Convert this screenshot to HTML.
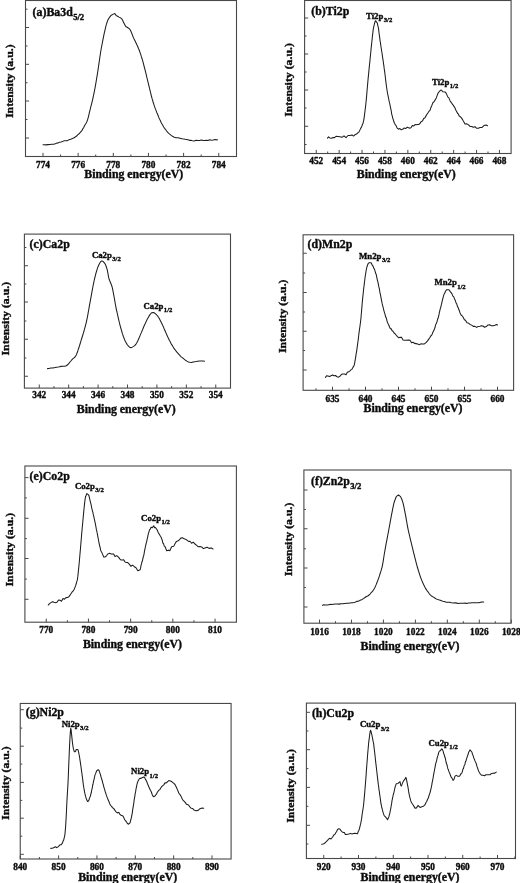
<!DOCTYPE html>
<html lang="en"><head><meta charset="utf-8"><title>XPS spectra</title>
<style>html,body{margin:0;padding:0;background:#fff;}body{width:520px;height:883px;overflow:hidden;}svg{display:block;}svg text{font-family:"Liberation Serif", "DejaVu Serif", serif;font-weight:bold;fill:#0c0c0c;stroke:#0c0c0c;stroke-width:0.38px;stroke-linejoin:round;}</style>
</head><body>
<svg width="520" height="883" viewBox="0 0 520 883">
<rect x="0" y="0" width="520" height="883" fill="#fff"/>
<g>
<rect x="25.5" y="0.5" width="211" height="156" fill="none" stroke="#484848" stroke-width="1.1"/>
<path d="M43 156.5 v-3.6M78.15 156.5 v-3.6M113.3 156.5 v-3.6M148.45 156.5 v-3.6M183.6 156.5 v-3.6M218.75 156.5 v-3.6M60.57 156.5 v-2M95.72 156.5 v-2M130.87 156.5 v-2M166.02 156.5 v-2M201.17 156.5 v-2M25.5 27.5 h3.6M25.5 64.3 h3.6M25.5 101 h3.6M25.5 138 h3.6M25.5 9.2 h2M25.5 46 h2M25.5 82.7 h2M25.5 119.5 h2" stroke="#484848" stroke-width="1" fill="none"/>
<text x="43" y="167.67" font-size="9.3" text-anchor="middle">774</text>
<text x="78.15" y="167.67" font-size="9.3" text-anchor="middle">776</text>
<text x="113.3" y="167.67" font-size="9.3" text-anchor="middle">778</text>
<text x="148.45" y="167.67" font-size="9.3" text-anchor="middle">780</text>
<text x="183.6" y="167.67" font-size="9.3" text-anchor="middle">782</text>
<text x="218.75" y="167.67" font-size="9.3" text-anchor="middle">784</text>
<text x="133.75" y="177.69" font-size="11.8" text-anchor="middle" textLength="99" lengthAdjust="spacingAndGlyphs">Binding energy(eV)</text>
<text transform="translate(12.8 81.2) rotate(-90)" font-size="11.4" text-anchor="middle" textLength="73.6" lengthAdjust="spacingAndGlyphs">Intensity (a.u.)</text>
<text x="32.6" y="15.6" font-size="11.85" text-anchor="start">(a)Ba3d<tspan font-size="8.65" dx="0.4" dy="4.38">5/2</tspan></text>
<path d="M43 144.75 L44.27 144.84 L46.09 144.87 L48 144.64 L49.92 144.51 L51.92 144.16 L53.75 144.2 L55.27 143.75 L56.62 143.14 L58 142.97 L59.48 142.16 L60.99 142.05 L62.5 141.54 L63.96 140.85 L65.43 140.66 L67 140.67 L68.8 139.86 L70.7 139.28 L72.5 138.56 L74.08 137.73 L75.56 136.78 L77 135.75 L78.1 134.38 L79.2 133.74 L80.26 132.43 L81.25 131.44 L82.14 130.17 L82.95 128.58 L83.73 127.45 L84.5 125.84 L85.28 124.43 L86.05 123.25 L86.79 121.91 L87.5 120.02 L87.95 118.47 L88.37 117.06 L88.78 115.37 L89.19 113.41 L89.59 111.7 L90 110.04 L90.42 108.48 L90.83 106.63 L91.25 105.14 L91.67 103.62 L92.08 101.81 L92.5 100.06 L92.85 98.52 L93.2 96.89 L93.55 95.26 L93.89 93.69 L94.25 91.93 L94.62 90.01 L95 88.09 L95.25 86.56 L95.52 85.12 L95.78 83.64 L96.05 82.05 L96.33 80.42 L96.61 78.69 L96.89 76.89 L97.17 75.29 L97.45 73.57 L97.73 71.78 L98 70.06 L98.25 68.41 L98.49 66.78 L98.73 65.16 L98.96 63.41 L99.2 61.84 L99.44 60.2 L99.68 58.37 L99.93 56.79 L100.18 55.09 L100.44 53.27 L100.71 51.57 L101 50.02 L101.3 48.23 L101.62 46.5 L101.96 44.8 L102.3 43 L102.65 41.22 L103.01 39.39 L103.36 37.58 L103.71 35.8 L104.05 34.19 L104.39 32.67 L104.7 31.32 L105 30.06 L105.54 27.61 L106.03 25.7 L106.49 24.19 L106.94 22.54 L107.4 21.33 L107.9 20.05 L109.05 17.95 L110.25 16.33 L111.3 15.22 L113.3 14.12 L114.8 13.43 L115.59 14.65 L116.5 15.8 L117.69 16.22 L119 17.12 L120.39 17.82 L121.7 18.65 L122.63 20.27 L123.5 22.36 L124.19 23.5 L124.93 24.88 L125.8 26.53 L127.53 27.49 L129.2 28.67 L130.14 29.77 L131 31.44 L131.59 32.88 L132.22 34.45 L132.94 36.49 L133.8 38.4 L134.48 39.78 L135.23 41.29 L136.04 42.95 L136.88 44.82 L137.71 46.45 L138.5 48.48 L139.07 49.75 L139.63 51.22 L140.18 52.95 L140.73 54.41 L141.28 56.39 L141.84 58.01 L142.41 59.89 L143 61.93 L143.4 63.39 L143.81 65.12 L144.23 66.75 L144.65 68.29 L145.07 69.91 L145.5 71.59 L145.93 73.37 L146.35 75.19 L146.77 77.03 L147.19 78.75 L147.6 80.49 L148 82.09 L148.43 83.69 L148.85 85.51 L149.26 87.17 L149.67 88.97 L150.08 90.51 L150.48 92.41 L150.88 93.77 L151.29 95.54 L151.69 97.01 L152.09 98.65 L152.5 99.89 L153.06 102 L153.6 103.46 L154.14 105.37 L154.69 106.95 L155.24 108.42 L155.8 109.82 L156.39 111.41 L157 112.98 L157.64 114.47 L158.32 116.06 L159.01 117.93 L159.72 119.39 L160.43 120.82 L161.14 122.43 L161.83 123.8 L162.5 124.84 L163.53 126.8 L164.54 128.33 L165.52 129.45 L166.51 130.76 L167.5 132.18 L168.74 133.36 L169.97 134.3 L171.21 135.37 L172.5 136.23 L174.29 137.17 L176.13 137.78 L178 137.73 L179.95 138.18 L181.94 138.85 L183.75 138.94 L185.27 139.31 L186.62 139.51 L188 139.73 L189.37 140.38 L190.77 140.32 L192.5 140.8 L194.15 141.03 L196.03 140.33 L198.02 140.59 L200 140.36 L201.54 140.04 L203.09 140.58 L204.67 140.43 L206.3 140.17 L208 140.47 L209.61 139.84 L211.41 140.21 L213.25 140.08 L214.98 139.44 L216.45 139.87 L217.5 139.7" stroke="#1c1c1c" stroke-width="1.05" fill="none" stroke-linejoin="round" stroke-linecap="round"/>
</g>
<g>
<rect x="304.6" y="0.5" width="206.5" height="153" fill="none" stroke="#484848" stroke-width="1.1"/>
<path d="M316.25 153.5 v-3.6M339.15 153.5 v-3.6M362.05 153.5 v-3.6M384.95 153.5 v-3.6M407.85 153.5 v-3.6M430.75 153.5 v-3.6M453.65 153.5 v-3.6M476.55 153.5 v-3.6M499.45 153.5 v-3.6M327.7 153.5 v-2M350.6 153.5 v-2M373.5 153.5 v-2M396.4 153.5 v-2M419.3 153.5 v-2M442.2 153.5 v-2M465.1 153.5 v-2M488 153.5 v-2M304.6 18 h3.6M304.6 54 h3.6M304.6 90 h3.6M304.6 126.25 h3.6M304.6 36 h2M304.6 72 h2M304.6 108 h2M304.6 144.5 h2" stroke="#484848" stroke-width="1" fill="none"/>
<text x="316.25" y="164.27" font-size="9.3" text-anchor="middle">452</text>
<text x="339.15" y="164.27" font-size="9.3" text-anchor="middle">454</text>
<text x="362.05" y="164.27" font-size="9.3" text-anchor="middle">456</text>
<text x="384.95" y="164.27" font-size="9.3" text-anchor="middle">458</text>
<text x="407.85" y="164.27" font-size="9.3" text-anchor="middle">460</text>
<text x="430.75" y="164.27" font-size="9.3" text-anchor="middle">462</text>
<text x="453.65" y="164.27" font-size="9.3" text-anchor="middle">464</text>
<text x="476.55" y="164.27" font-size="9.3" text-anchor="middle">466</text>
<text x="499.45" y="164.27" font-size="9.3" text-anchor="middle">468</text>
<text x="406.25" y="178.44" font-size="11.8" text-anchor="middle" textLength="99" lengthAdjust="spacingAndGlyphs">Binding energy(eV)</text>
<text transform="translate(291.8 80) rotate(-90)" font-size="11.4" text-anchor="middle" textLength="73.6" lengthAdjust="spacingAndGlyphs">Intensity (a.u.)</text>
<text x="311.3" y="15.4" font-size="11.85" text-anchor="start">(b)Ti2p</text>
<text x="366" y="18.5" font-size="8.75" text-anchor="start">Ti2p<tspan font-size="6.65" dx="0.4" dy="3.24">3/2</tspan></text>
<text x="432" y="85.2" font-size="8.75" text-anchor="start">Ti2p<tspan font-size="6.65" dx="0.4" dy="3.24">1/2</tspan></text>
<path d="M327.5 138.19 L328.56 136.83 L330 138.08 L331.47 138.18 L333 137.42 L334.44 137.63 L336 136.32 L337.94 136.52 L340 136.8 L342 137.35 L344 135.83 L346 137.62 L348 135.49 L350.06 135.51 L352 134.88 L353.56 136.07 L355 134.72 L356.56 134.08 L358 132.69 L359.06 131.84 L360 129.86 L360.68 128.39 L361.35 127.42 L362 125.75 L362.47 124.25 L362.92 123.67 L363.35 121.94 L363.75 120.15 L364.03 118.72 L364.29 116.64 L364.52 114.81 L364.76 112.93 L365 110.94 L365.17 109.72 L365.34 107.96 L365.51 106.88 L365.68 105.47 L365.86 103.77 L366.05 101.8 L366.25 100.11 L366.38 98.39 L366.52 97.16 L366.66 95.35 L366.81 93.59 L366.96 91.9 L367.11 90.05 L367.26 88.27 L367.42 86.72 L367.57 84.97 L367.72 83.08 L367.86 81.59 L368 79.99 L368.17 78.14 L368.34 76.62 L368.5 74.71 L368.66 73.46 L368.81 71.84 L368.97 70.29 L369.14 68.31 L369.31 66.63 L369.5 64.75 L369.65 63.42 L369.8 62.16 L369.96 60.48 L370.13 58.77 L370.3 56.67 L370.47 55.23 L370.64 53.52 L370.81 51.79 L370.99 50.06 L371.16 48.02 L371.33 46.4 L371.5 45.16 L371.7 43.26 L371.9 41.46 L372.09 39.33 L372.29 37.71 L372.48 35.46 L372.68 34.19 L372.88 32.49 L373.08 30.59 L373.29 28.95 L373.5 28.04 L374.04 25.5 L374.61 23.09 L375.18 21.23 L375.75 20.75 L376.51 22.17 L377.27 22.82 L378 26.44 L378.25 27.03 L378.48 28.37 L378.69 29.83 L378.91 32.04 L379.13 33.79 L379.38 35.39 L379.67 37.39 L380 40.11 L380.2 41.63 L380.42 42.43 L380.65 44.39 L380.89 46.14 L381.14 47.49 L381.4 49.26 L381.66 51.16 L381.93 52.5 L382.2 54.31 L382.47 56.38 L382.74 58.08 L383 59.85 L383.26 61.47 L383.51 63.61 L383.75 64.86 L383.98 66.81 L384.21 68.67 L384.44 70.1 L384.66 71.65 L384.88 73.53 L385.1 75.21 L385.31 77.03 L385.53 78.76 L385.74 80.62 L385.95 82.32 L386.16 84.02 L386.37 85.75 L386.58 87.29 L386.79 88.76 L387 89.9 L387.35 92.26 L387.7 94.14 L388.06 95.6 L388.41 97.67 L388.75 99.06 L389.08 100.9 L389.41 102.41 L389.71 103.37 L390 104.94 L390.39 106.96 L390.75 108.68 L391.08 110.17 L391.39 111.75 L391.69 114.07 L392 115.23 L392.42 116.72 L392.8 118.43 L393.21 119.32 L393.75 121.27 L394.43 123.19 L395.22 124.58 L396.08 125.66 L397 127.83 L398.4 129.17 L399.91 128.56 L401.25 129.79 L402.67 129.37 L404 128.03 L405.7 128.48 L407.5 127.19 L409.22 128.13 L411 127.76 L412.3 125.49 L413.65 126.06 L415 124.51 L416.35 124.82 L417.7 124.5 L419 124.45 L420.2 123.23 L421.35 121.38 L422.5 120.9 L423.65 118.57 L424.8 118.02 L426 115.87 L426.99 114.25 L428.03 112.74 L429.06 111.17 L430 110.43 L430.84 107.69 L431.62 105.97 L432.34 104.09 L433 102.5 L434 101.8 L435 100.13 L435.67 98.91 L436.42 97.65 L437.21 95.39 L438 93.31 L439.12 91.68 L440.27 90.53 L441.25 89.99 L443 91.81 L445 92.02 L445.94 92.82 L447 95.14 L447.89 97.11 L448.89 97.86 L450 100.65 L450.74 101.9 L451.55 102.84 L452.39 104.18 L453.22 105.11 L454 106.41 L454.91 107.77 L455.78 110.02 L456.64 111.49 L457.5 113.26 L458.36 114.04 L459.22 116.04 L460.09 116.51 L461 117.42 L461.94 118.62 L462.91 120.31 L463.92 121.96 L465 123.9 L466.59 123.81 L468.3 124.65 L470 126.46 L471.67 126.45 L473.33 127.33 L475 126.69 L476.7 128.33 L478.41 128.23 L480 127.57 L482.09 127.41 L484 125.61 L486 124.97 L487.5 125.78" stroke="#1c1c1c" stroke-width="1.05" fill="none" stroke-linejoin="round" stroke-linecap="round"/>
</g>
<g>
<rect x="24.4" y="234.1" width="206.1" height="154" fill="none" stroke="#484848" stroke-width="1.1"/>
<path d="M39.25 388.1 v-3.6M68.67 388.1 v-3.6M98.08 388.1 v-3.6M127.5 388.1 v-3.6M156.91 388.1 v-3.6M186.33 388.1 v-3.6M215.75 388.1 v-3.6M53.96 388.1 v-2M83.37 388.1 v-2M112.79 388.1 v-2M142.21 388.1 v-2M171.62 388.1 v-2M201.04 388.1 v-2M24.4 265.75 h3.6M24.4 302 h3.6M24.4 339.25 h3.6M24.4 376.25 h3.6M24.4 247.5 h2M24.4 284 h2M24.4 321 h2M24.4 358 h2" stroke="#484848" stroke-width="1" fill="none"/>
<text x="39.25" y="398.37" font-size="9.3" text-anchor="middle">342</text>
<text x="68.67" y="398.37" font-size="9.3" text-anchor="middle">344</text>
<text x="98.08" y="398.37" font-size="9.3" text-anchor="middle">346</text>
<text x="127.5" y="398.37" font-size="9.3" text-anchor="middle">348</text>
<text x="156.91" y="398.37" font-size="9.3" text-anchor="middle">350</text>
<text x="186.33" y="398.37" font-size="9.3" text-anchor="middle">352</text>
<text x="215.75" y="398.37" font-size="9.3" text-anchor="middle">354</text>
<text x="126.25" y="412.69" font-size="11.8" text-anchor="middle" textLength="99" lengthAdjust="spacingAndGlyphs">Binding energy(eV)</text>
<text transform="translate(8.9 318.7) rotate(-90)" font-size="11.4" text-anchor="middle" textLength="73.6" lengthAdjust="spacingAndGlyphs">Intensity (a.u.)</text>
<text x="29.6" y="248.1" font-size="11.85" text-anchor="start">(c)Ca2p</text>
<text x="91.9" y="257.5" font-size="8.75" text-anchor="start">Ca2p<tspan font-size="6.65" dx="0.4" dy="3.24">3/2</tspan></text>
<text x="143.5" y="309.2" font-size="8.75" text-anchor="start">Ca2p<tspan font-size="6.65" dx="0.4" dy="3.24">1/2</tspan></text>
<path d="M47.5 368.64 L48.88 368.55 L50.88 368.09 L53.05 367.88 L55 367.53 L56.62 367.19 L58.14 367 L59.59 366.75 L61 366.37 L62.86 366.35 L64.64 366.25 L66.25 365.76 L67.64 364.8 L68.86 363.39 L70 361.97 L71.05 360.76 L72.01 359.58 L73 358.57 L74 357.8 L75.03 357.04 L76.25 354.99 L76.73 353.85 L77.24 352.45 L77.79 350.95 L78.35 349.21 L78.93 347.49 L79.52 345.63 L80.11 343.75 L80.68 341.8 L81.25 339.94 L81.71 338.49 L82.18 337.03 L82.65 335.48 L83.12 333.96 L83.59 332.35 L84.06 330.75 L84.52 329.21 L84.98 327.48 L85.42 325.83 L85.84 324.21 L86.25 322.52 L86.61 320.91 L86.95 319.32 L87.28 317.67 L87.59 316.04 L87.9 314.38 L88.2 312.69 L88.5 310.97 L88.8 309.26 L89.09 307.6 L89.39 305.86 L89.69 304.19 L90 302.54 L90.31 300.83 L90.63 299.07 L90.95 297.35 L91.27 295.57 L91.59 293.83 L91.91 292.04 L92.23 290.31 L92.54 288.66 L92.85 286.98 L93.16 285.39 L93.46 283.95 L93.75 282.55 L94.18 280.5 L94.59 278.65 L95 277.03 L95.4 275.44 L95.79 273.89 L96.17 272.48 L96.54 271.24 L96.9 270.06 L97.57 267.87 L98.19 266.26 L98.79 264.95 L99.4 263.7 L100.61 261.79 L101.9 260.89 L103.47 261.81 L105 263.7 L105.63 264.94 L106.21 266.48 L106.74 268.13 L107.25 269.95 L107.61 271.57 L107.93 273.37 L108.24 275.2 L108.58 277.07 L109 278.74 L109.52 280.27 L110.13 281.73 L110.76 283.19 L111.37 284.73 L111.9 286.21 L112.33 287.84 L112.68 289.45 L113.01 291.12 L113.36 292.91 L113.75 295.04 L114.02 296.48 L114.3 298 L114.58 299.64 L114.88 301.37 L115.19 303.22 L115.52 305.01 L115.87 306.91 L116.25 308.8 L116.57 310.34 L116.92 311.9 L117.28 313.5 L117.66 315.22 L118.05 316.92 L118.44 318.67 L118.84 320.35 L119.23 322 L119.62 323.54 L120 325.06 L120.47 326.79 L120.94 328.5 L121.41 330.23 L121.88 331.77 L122.34 333.38 L122.81 334.85 L123.28 336.26 L123.75 337.43 L124.5 339.35 L125.25 341.18 L126 342.54 L126.75 343.89 L127.5 345.02 L128.71 346.43 L129.91 347.41 L131.25 347.63 L132.4 347.13 L133.64 346.37 L134.92 345.44 L136.15 343.84 L136.94 342.51 L137.72 340.95 L138.49 339.21 L139.26 337.49 L140.03 335.6 L140.8 333.86 L141.46 332.4 L142.12 330.77 L142.77 329.25 L143.43 327.52 L144.09 326.07 L144.74 324.57 L145.4 323.18 L146.18 321.4 L146.99 319.87 L147.79 318.33 L148.58 316.91 L149.32 315.63 L150 314.55 L151.55 312.77 L153.1 312.41 L154.14 312.77 L155.31 313.66 L156.51 314.73 L157.7 316.06 L158.45 317.27 L159.17 318.35 L159.9 319.79 L160.65 321.24 L161.44 322.77 L162.3 324.54 L162.92 325.85 L163.57 327.33 L164.25 329.03 L164.95 330.53 L165.66 332.31 L166.38 333.84 L167.1 335.49 L167.81 337.06 L168.5 338.48 L169.36 340.3 L170.2 341.81 L171.04 343.42 L171.88 344.88 L172.74 346.32 L173.65 347.85 L174.6 349.17 L175.62 350.56 L176.68 351.94 L177.79 353.11 L178.92 354.35 L180.05 355.66 L181.19 356.82 L182.3 357.59 L183.84 358.95 L185.38 360.21 L186.92 361.14 L188.46 361.94 L190 362.31 L191.55 362.57 L193.12 362.1 L194.68 361.83 L196.21 361.54 L197.7 361.17 L199.64 361.08 L201.63 361.07 L203.38 361.06 L204.6 361.19" stroke="#1c1c1c" stroke-width="1.05" fill="none" stroke-linejoin="round" stroke-linecap="round"/>
</g>
<g>
<rect x="303.1" y="234.8" width="210.5" height="155.5" fill="none" stroke="#484848" stroke-width="1.1"/>
<path d="M332.5 390.3 v-3.6M365.5 390.3 v-3.6M398.5 390.3 v-3.6M431.5 390.3 v-3.6M464.5 390.3 v-3.6M497.5 390.3 v-3.6M316 390.3 v-2M349 390.3 v-2M382 390.3 v-2M415 390.3 v-2M448 390.3 v-2M481 390.3 v-2M303.1 253.25 h3.6M303.1 292.5 h3.6M303.1 331.25 h3.6M303.1 370 h3.6M303.1 273 h2M303.1 312 h2M303.1 350.5 h2" stroke="#484848" stroke-width="1" fill="none"/>
<text x="332.5" y="401.82" font-size="9.3" text-anchor="middle">635</text>
<text x="365.5" y="401.82" font-size="9.3" text-anchor="middle">640</text>
<text x="398.5" y="401.82" font-size="9.3" text-anchor="middle">645</text>
<text x="431.5" y="401.82" font-size="9.3" text-anchor="middle">650</text>
<text x="464.5" y="401.82" font-size="9.3" text-anchor="middle">655</text>
<text x="497.5" y="401.82" font-size="9.3" text-anchor="middle">660</text>
<text x="413" y="412.19" font-size="11.8" text-anchor="middle" textLength="99" lengthAdjust="spacingAndGlyphs">Binding energy(eV)</text>
<text transform="translate(285.7 316.3) rotate(-90)" font-size="11.4" text-anchor="middle" textLength="73.6" lengthAdjust="spacingAndGlyphs">Intensity (a.u.)</text>
<text x="307.6" y="248" font-size="11.85" text-anchor="start">(d)Mn2p</text>
<text x="359.1" y="258.6" font-size="8.75" text-anchor="start">Mn2p<tspan font-size="6.65" dx="0.4" dy="3.24">3/2</tspan></text>
<text x="434.4" y="285.4" font-size="8.75" text-anchor="start">Mn2p<tspan font-size="6.65" dx="0.4" dy="3.24">1/2</tspan></text>
<path d="M325.5 377.4 L326.56 375.72 L328 376.01 L329.47 376.52 L331 375.82 L332.5 375.06 L334 375.74 L335.5 375.51 L337 376.72 L338.5 377.17 L340 376.29 L341.5 374.35 L343 374.07 L344.59 373.93 L346 374.66 L347.5 372.05 L348.61 371.97 L350 370.78 L350.9 369.88 L351.92 369.34 L352.92 367.38 L353.75 366.13 L354.22 365.12 L354.58 363.6 L354.88 361.72 L355.17 360.22 L355.5 358.06 L355.74 356.85 L355.99 354.87 L356.25 353.33 L356.52 351.79 L356.78 350.33 L357.03 348.37 L357.27 346.59 L357.5 344.83 L357.74 343.1 L357.96 341.35 L358.16 340.14 L358.37 338.4 L358.57 336.72 L358.78 334.78 L359 333.14 L359.21 331.33 L359.42 329.97 L359.64 328.25 L359.86 326.94 L360.08 325.26 L360.31 323.51 L360.53 322.22 L360.75 319.77 L360.9 318.74 L361.04 317.15 L361.18 315.25 L361.32 313.77 L361.47 312.29 L361.61 310.53 L361.75 308.57 L361.9 306.9 L362.04 305.12 L362.19 303.2 L362.35 301.64 L362.5 300.05 L362.67 298.21 L362.85 296.7 L363.03 294.75 L363.22 293.2 L363.41 291.09 L363.59 289.63 L363.78 287.75 L363.97 286.51 L364.15 285.11 L364.33 283.43 L364.5 282.04 L364.76 280 L365.02 277.78 L365.27 276.04 L365.51 274.46 L365.76 272.93 L366 271.25 L366.25 269.98 L366.68 267.82 L367.11 266.43 L367.54 265.3 L368 263.75 L368.95 262.77 L370 262.8 L371.14 262.81 L372.5 265.71 L373.06 265.95 L373.68 268.18 L374.33 268.85 L374.99 270.87 L375.64 273.32 L376.25 274.5 L376.63 276.56 L377.01 278.35 L377.38 280.04 L377.74 281.49 L378.1 282.92 L378.45 284.67 L378.8 286.69 L379.15 287.92 L379.5 289.58 L379.84 292.02 L380.18 293.52 L380.52 294.86 L380.85 296.83 L381.18 298.43 L381.51 300.62 L381.84 301.75 L382.17 303.71 L382.5 305.23 L382.93 306.62 L383.35 308.24 L383.77 310.12 L384.2 311.53 L384.62 313.22 L385.06 314.38 L385.5 316.33 L386.02 317.55 L386.53 318.8 L387.05 321.08 L387.58 322.72 L388.15 323.88 L388.75 325.06 L389.53 327.11 L390.37 328.73 L391.23 328.73 L392.12 330.79 L393 331.2 L394.08 333 L395.17 333.92 L396.3 335.28 L397.5 336.59 L398.77 337.77 L400.09 337.26 L401.5 337.36 L403 340.05 L404.67 340.21 L406.47 340.3 L408.29 339.89 L410 340.28 L411.56 342.67 L413.03 342.24 L414.49 343.38 L416 343.62 L417.68 344.01 L419.47 344.63 L421.14 343.79 L422.5 343.91 L423.92 343.96 L425 343.48 L426.19 342.38 L427.51 340.89 L428.75 339.13 L429.78 337.71 L430.72 336 L431.7 335.04 L432.34 333.7 L433 332.02 L433.68 330.68 L434.35 329.31 L435 327.55 L435.53 325.1 L436.06 323.91 L436.58 322.84 L437.09 321.41 L437.6 319.35 L438.1 318.36 L438.53 316.28 L438.96 314.89 L439.38 312.43 L439.8 310.85 L440.21 308.83 L440.61 307.87 L441 306.02 L441.43 304.7 L441.85 302.66 L442.25 300.76 L442.64 299.25 L443.02 297.85 L443.4 296.35 L444.12 294.07 L444.81 293.06 L445.5 291.22 L446.5 289.82 L447.6 289.78 L448.98 289.76 L450.5 291.9 L451.28 292.83 L452.07 294.12 L452.89 296.09 L453.75 296.93 L454.47 298.86 L455.21 300.14 L455.98 302.64 L456.74 303.95 L457.5 306.61 L458.12 307.49 L458.73 309.3 L459.34 310.72 L459.96 312.66 L460.6 313.97 L461.25 315.21 L462.27 315.94 L463.33 317.51 L464.41 319.8 L465.5 320.34 L466.96 322.68 L468.45 323.09 L470 324.4 L471.63 325.13 L473.31 326.37 L475 326.34 L476.56 327.39 L478.11 326.49 L480 326.19 L481.38 325.78 L482.91 325.97 L484.55 327.26 L486.26 326.52 L488 324.93 L489.61 324.79 L491.41 325.7 L493.25 325.81 L494.98 325.29 L496.45 324.42 L497.5 324.93" stroke="#1c1c1c" stroke-width="1.05" fill="none" stroke-linejoin="round" stroke-linecap="round"/>
</g>
<g>
<rect x="24.9" y="466" width="211.5" height="156.2" fill="none" stroke="#484848" stroke-width="1.1"/>
<path d="M46.25 622.2 v-3.6M88.45 622.2 v-3.6M130.65 622.2 v-3.6M172.85 622.2 v-3.6M215.05 622.2 v-3.6M67.35 622.2 v-2M109.55 622.2 v-2M151.75 622.2 v-2M193.95 622.2 v-2M24.9 477.6 h3.6M24.9 518.3 h3.6M24.9 558.5 h3.6M24.9 599.3 h3.6M24.9 497.9 h2M24.9 538.6 h2M24.9 579.1 h2" stroke="#484848" stroke-width="1" fill="none"/>
<text x="46.25" y="633.27" font-size="9.3" text-anchor="middle">770</text>
<text x="88.45" y="633.27" font-size="9.3" text-anchor="middle">780</text>
<text x="130.65" y="633.27" font-size="9.3" text-anchor="middle">790</text>
<text x="172.85" y="633.27" font-size="9.3" text-anchor="middle">800</text>
<text x="215.05" y="633.27" font-size="9.3" text-anchor="middle">810</text>
<text x="132.4" y="648.44" font-size="11.8" text-anchor="middle" textLength="99" lengthAdjust="spacingAndGlyphs">Binding energy(eV)</text>
<text transform="translate(12.8 549.7) rotate(-90)" font-size="11.4" text-anchor="middle" textLength="73.6" lengthAdjust="spacingAndGlyphs">Intensity (a.u.)</text>
<text x="29.6" y="479.7" font-size="11.85" text-anchor="start">(e)Co2p</text>
<text x="74.9" y="488.9" font-size="8.75" text-anchor="start">Co2p<tspan font-size="6.65" dx="0.4" dy="3.24">3/2</tspan></text>
<text x="141.1" y="520.6" font-size="8.75" text-anchor="start">Co2p<tspan font-size="6.65" dx="0.4" dy="3.24">1/2</tspan></text>
<path d="M48.25 605.04 L49.44 603.68 L51 602.62 L52.48 601.67 L54 602.33 L55.5 602.75 L57 602.27 L58.5 599.98 L60 600.16 L61.5 601.25 L63 598.59 L64.44 599.21 L66 597.61 L67.3 597.48 L68.7 596.92 L70 595.17 L71.11 593.51 L72.11 592 L73 591.22 L74.08 589.57 L75 587.36 L75.64 585.68 L76.25 583.77 L76.75 581.67 L77.14 580.66 L77.5 579.06 L77.65 577.51 L77.82 576.41 L78.01 574.89 L78.2 573.09 L78.4 570.79 L78.61 568.92 L78.81 567.23 L79 564.91 L79.15 563.74 L79.29 561.71 L79.43 560.5 L79.58 558.45 L79.72 557.16 L79.86 555.54 L80.01 553.66 L80.17 551.91 L80.33 550.19 L80.5 548.28 L80.63 546.37 L80.76 545.06 L80.89 543.25 L81.02 541.86 L81.16 540.12 L81.3 538.48 L81.44 537.07 L81.58 535.08 L81.73 533.42 L81.88 531.62 L82.03 530.35 L82.18 528.3 L82.34 526.47 L82.5 525.07 L82.65 523.48 L82.81 521.7 L82.98 519.86 L83.14 518.01 L83.31 516.25 L83.49 514.13 L83.66 512.58 L83.84 510.66 L84.01 508.97 L84.19 507.27 L84.36 505.6 L84.52 503.84 L84.69 502.43 L84.85 501.3 L85 500.07 L85.55 496.43 L86.06 495.85 L86.55 493.8 L87 493.71 L88.5 494.91 L88.96 495.61 L89.43 497.85 L90 500.11 L90.3 501.61 L90.64 502.82 L91 504.06 L91.38 506.01 L91.76 508.14 L92.13 509.5 L92.5 511.37 L92.86 512.08 L93.21 514.43 L93.57 515.53 L93.93 517.11 L94.29 518.95 L94.64 520.46 L95 522.07 L95.36 523.94 L95.71 525.72 L96.07 527.53 L96.43 529.89 L96.79 530.98 L97.14 532.9 L97.5 534.55 L97.86 536.84 L98.21 538.48 L98.57 540.7 L98.93 542.3 L99.29 544.05 L99.64 546.02 L100 546.97 L100.62 550.15 L101.25 551.44 L101.88 552.59 L102.5 554.09 L103.72 556.94 L105 556.98 L106.45 555.79 L108 553.88 L109.58 553.28 L111.25 554 L112.47 554.01 L113.75 554.13 L115 556.42 L116.73 555.63 L118.5 557.17 L119.76 558.9 L121.07 560.03 L122.5 559.91 L123.68 559.73 L124.94 561.87 L126.23 562.49 L127.5 562.42 L129.22 564.14 L130.94 566.3 L132.5 565.18 L134.34 566.69 L136 567.76 L137.84 570.74 L139.5 570 L140.1 569.81 L140.58 568.15 L141.02 565.45 L141.5 563.93 L141.93 561.95 L142.37 561.08 L142.82 558.92 L143.28 556.88 L143.75 555.34 L144.09 553.77 L144.45 551.3 L144.8 549.57 L145.17 548.01 L145.53 546.21 L145.89 544.6 L146.25 542.92 L146.67 541.6 L147.09 539.35 L147.52 537.79 L147.94 535.64 L148.35 533.56 L148.75 532.59 L149.5 529.93 L150.22 529.22 L151 527.29 L152.34 527.63 L153.75 525.72 L154.64 527.69 L155.53 527.54 L156.5 528.96 L157.32 530.16 L158.2 532.48 L159.11 533.9 L160 535.4 L160.58 536.43 L161.15 537.29 L161.72 539.02 L162.3 540.33 L162.89 543.2 L163.5 543.42 L164.28 546.06 L165.09 546.7 L165.91 548.78 L166.72 550.67 L167.5 550.46 L168.69 550.14 L169.81 550.73 L171 548.08 L171.96 546.45 L172.97 546.59 L173.99 545.88 L175 543.84 L176.35 541.39 L177.7 540.91 L179 540.24 L180.78 538.11 L182.5 537.78 L184.22 538.85 L186 539.38 L187.26 540.42 L188.57 541.46 L190 541.29 L191.59 543.27 L193.3 542.18 L195 544.04 L196.67 545.3 L198.33 546.78 L200 546.43 L201.7 546.95 L203.41 548.61 L205 547.92 L207.06 547.16 L209 548.37 L211.25 547.89 L213 548.94" stroke="#1c1c1c" stroke-width="1.05" fill="none" stroke-linejoin="round" stroke-linecap="round"/>
</g>
<g>
<rect x="303.9" y="470" width="207.1" height="153.2" fill="none" stroke="#484848" stroke-width="1.1"/>
<path d="M319.5 623.2 v-3.6M351.46 623.2 v-3.6M383.42 623.2 v-3.6M415.38 623.2 v-3.6M447.34 623.2 v-3.6M479.3 623.2 v-3.6M511.26 623.2 v-3.6M335.48 623.2 v-2M367.44 623.2 v-2M399.4 623.2 v-2M431.36 623.2 v-2M463.32 623.2 v-2M495.28 623.2 v-2M303.9 490 h3.6M303.9 528.75 h3.6M303.9 568 h3.6M303.9 607 h3.6M303.9 509.5 h2M303.9 548.75 h2M303.9 587.5 h2" stroke="#484848" stroke-width="1" fill="none"/>
<text x="319.5" y="634.82" font-size="9.3" text-anchor="middle">1016</text>
<text x="351.46" y="634.82" font-size="9.3" text-anchor="middle">1018</text>
<text x="383.42" y="634.82" font-size="9.3" text-anchor="middle">1020</text>
<text x="415.38" y="634.82" font-size="9.3" text-anchor="middle">1022</text>
<text x="447.34" y="634.82" font-size="9.3" text-anchor="middle">1024</text>
<text x="479.3" y="634.82" font-size="9.3" text-anchor="middle">1026</text>
<text x="511.26" y="634.82" font-size="9.3" text-anchor="middle">1028</text>
<text x="410" y="649.69" font-size="11.8" text-anchor="middle" textLength="99" lengthAdjust="spacingAndGlyphs">Binding energy(eV)</text>
<text transform="translate(291.8 539.5) rotate(-90)" font-size="11.4" text-anchor="middle" textLength="73.6" lengthAdjust="spacingAndGlyphs">Intensity (a.u.)</text>
<text x="311" y="484.7" font-size="11.85" text-anchor="start">(f)Zn2p<tspan font-size="8.65" dx="0.4" dy="4.38">3/2</tspan></text>
<path d="M322.5 605.23 L323.73 604.83 L325.47 604.97 L327.6 604.92 L330 604.39 L331.57 604.56 L333.35 604.21 L335.27 604 L337.23 604 L339.15 604.12 L340.93 603.65 L342.5 603.84 L344.79 603.48 L346.72 603.2 L348.42 603.16 L350 602.94 L351.85 602.69 L353.43 602.61 L355 602.23 L356.67 601.38 L358.33 601.23 L360 600.36 L361.7 599.68 L363.41 598.62 L365 597.51 L366.43 596.5 L367.74 595.97 L369 595.03 L370.24 593.76 L371.43 592.35 L372.5 591.38 L373.41 590.04 L374.2 588.69 L375 587.17 L375.62 585.87 L376.25 584.39 L376.88 582.79 L377.5 581.26 L378 579.93 L378.5 578.62 L379 577.14 L379.5 575.68 L380 574 L380.5 572.43 L381 570.94 L381.5 569.19 L382 567.32 L382.5 565.05 L382.77 563.55 L383.03 562.15 L383.29 560.59 L383.54 558.98 L383.8 557.27 L384.07 555.52 L384.36 553.78 L384.67 551.97 L385 550.07 L385.27 548.59 L385.56 546.92 L385.87 545.13 L386.19 543.45 L386.52 541.67 L386.86 540.08 L387.2 538.19 L387.53 536.53 L387.85 534.76 L388.17 533.12 L388.47 531.58 L388.75 530.03 L389.1 528.01 L389.43 526.3 L389.75 524.49 L390.05 522.92 L390.35 521.14 L390.64 519.54 L390.92 518.12 L391.21 516.49 L391.5 514.91 L391.87 513.14 L392.23 511.28 L392.59 509.36 L392.94 507.53 L393.29 506.02 L393.65 504.36 L394 502.93 L394.64 500.74 L395.28 499.21 L395.91 497.55 L396.5 496.33 L398.5 494.92 L400.5 496.59 L401.09 497.82 L401.72 499 L402.36 500.91 L403 502.94 L403.35 504.49 L403.71 505.94 L404.06 507.64 L404.41 509.43 L404.77 511.2 L405.13 513.07 L405.5 514.9 L405.78 516.44 L406.06 518.07 L406.32 519.64 L406.6 521.2 L406.88 522.74 L407.18 524.57 L407.5 526.35 L407.86 528.18 L408.25 530.06 L408.58 531.56 L408.95 533.12 L409.35 534.85 L409.77 536.59 L410.2 538.52 L410.64 540.27 L411.08 542.2 L411.51 543.82 L411.92 545.53 L412.32 547.09 L412.68 548.61 L413 550.07 L413.55 552.35 L414.02 554.27 L414.42 555.66 L414.79 557.27 L415.14 558.61 L415.5 559.96 L415.92 561.74 L416.29 563.13 L416.65 564.43 L417.04 566 L417.5 567.48 L417.94 568.98 L418.42 570.57 L418.92 572.21 L419.44 573.73 L419.97 575.57 L420.5 576.94 L421.13 578.72 L421.78 580.33 L422.44 582.07 L423.1 583.44 L423.75 584.84 L424.57 586.48 L425.39 588.14 L426.21 589.36 L427 590.59 L428 591.83 L428.97 593.29 L430 594.6 L431.11 595.67 L432.28 596.45 L433.5 597.09 L434.8 597.97 L436.15 598.89 L437.5 599.45 L438.81 599.87 L440.11 600.25 L441.5 600.85 L442.88 601.27 L444.34 601.61 L446.25 602.2 L447.77 602.26 L449.55 602.22 L451.43 602.8 L453.3 602.97 L455 602.77 L456.85 603.13 L458.55 603.46 L460.22 603.29 L462 603.3 L463.55 603.18 L465.18 603.11 L466.82 603.4 L468.45 602.93 L470 602.98 L471.83 602.68 L473.58 602.83 L475.29 602.81 L477 602.71 L478.86 602.73 L480.81 602.14 L482.54 601.94 L483.75 601.92" stroke="#1c1c1c" stroke-width="1.05" fill="none" stroke-linejoin="round" stroke-linecap="round"/>
</g>
<g>
<rect x="20.25" y="703.45" width="210.85" height="155.55" fill="none" stroke="#484848" stroke-width="1.1"/>
<path d="M20.25 859 v-3.6M58.6 859 v-3.6M96.95 859 v-3.6M135.3 859 v-3.6M173.65 859 v-3.6M212 859 v-3.6M39.42 859 v-2M77.78 859 v-2M116.12 859 v-2M154.47 859 v-2M192.82 859 v-2M20.25 709.7 h3.6M20.25 746.2 h3.6M20.25 782.4 h3.6M20.25 818.2 h3.6M20.25 854.3 h3.6M20.25 728.1 h2M20.25 764.1 h2M20.25 800.4 h2M20.25 836.2 h2" stroke="#484848" stroke-width="1" fill="none"/>
<text x="20.25" y="870.27" font-size="9.3" text-anchor="middle">840</text>
<text x="58.6" y="870.27" font-size="9.3" text-anchor="middle">850</text>
<text x="96.95" y="870.27" font-size="9.3" text-anchor="middle">860</text>
<text x="135.3" y="870.27" font-size="9.3" text-anchor="middle">870</text>
<text x="173.65" y="870.27" font-size="9.3" text-anchor="middle">880</text>
<text x="212" y="870.27" font-size="9.3" text-anchor="middle">890</text>
<text x="127.7" y="880.69" font-size="11.8" text-anchor="middle" textLength="99" lengthAdjust="spacingAndGlyphs">Binding energy(eV)</text>
<text transform="translate(8.6 783.1) rotate(-90)" font-size="11.4" text-anchor="middle" textLength="73.6" lengthAdjust="spacingAndGlyphs">Intensity (a.u.)</text>
<text x="25.8" y="716.3" font-size="11.85" text-anchor="start">(g)Ni2p</text>
<text x="61.7" y="726.7" font-size="8.75" text-anchor="start">Ni2p<tspan font-size="6.65" dx="0.4" dy="3.24">3/2</tspan></text>
<text x="131.1" y="774.4" font-size="8.75" text-anchor="start">Ni2p<tspan font-size="6.65" dx="0.4" dy="3.24">1/2</tspan></text>
<path d="M50.75 848.38 L53 847.9 L55.5 846.74 L56.78 847.7 L58 846.8 L60 844.84 L61.25 844.7 L62.5 842.85 L63.06 841.01 L63.59 840.41 L64.08 838.35 L64.5 836.72 L64.77 835.34 L64.98 833.73 L65.17 832.01 L65.33 829.96 L65.5 827.99 L65.62 826.33 L65.73 824.73 L65.84 823.06 L65.94 821.16 L66.04 819.36 L66.15 817.55 L66.25 815.42 L66.33 813.9 L66.41 812.19 L66.49 810.66 L66.57 808.82 L66.65 807.09 L66.73 805.44 L66.82 803.59 L66.91 801.82 L67 800.03 L67.09 798.36 L67.19 796.69 L67.29 794.95 L67.39 793.26 L67.5 791.58 L67.61 789.88 L67.71 788.17 L67.81 786.59 L67.91 784.68 L68 782.92 L68.08 781.37 L68.15 779.78 L68.22 778.36 L68.28 776.82 L68.34 775.22 L68.41 773.66 L68.47 771.96 L68.53 770.29 L68.6 768.57 L68.67 766.86 L68.75 764.95 L68.81 763.49 L68.88 761.87 L68.95 760.26 L69.02 758.58 L69.09 756.78 L69.16 754.91 L69.23 753.22 L69.31 751.48 L69.38 749.71 L69.46 747.92 L69.53 746.29 L69.6 744.83 L69.68 743.4 L69.75 742 L69.88 739.79 L70 737.53 L70.12 735.5 L70.25 733.4 L70.38 731.9 L70.5 730.49 L70.62 729.15 L70.75 728.36 L71 728.94 L71.25 731.11 L71.5 733.64 L71.75 735.82 L71.95 737.85 L72.15 739.59 L72.35 741.76 L72.55 743.33 L72.75 744.79 L73.07 746.95 L73.4 748.64 L73.75 749.94 L74.36 751.76 L75 751.84 L75.62 751.24 L76.25 749.45 L77.5 749.57 L77.92 749.65 L78.33 751.02 L78.75 752.77 L79.04 754.46 L79.33 755.59 L79.63 757.5 L80 760.09 L80.22 761.43 L80.45 763.13 L80.71 764.94 L80.97 766.5 L81.24 768.61 L81.5 770.53 L81.76 772.39 L82 774.02 L82.23 775.87 L82.46 777.31 L82.67 779.18 L82.89 781.13 L83.1 782.85 L83.32 784.54 L83.53 786.01 L83.75 787.25 L84.1 789.46 L84.44 791.22 L84.78 793.19 L85.13 794.39 L85.5 796.21 L86.15 798.32 L86.82 800.1 L87.5 801.44 L88.52 801.05 L89.5 798.33 L89.96 796.9 L90.39 796.15 L90.82 794.09 L91.25 792.78 L91.6 790.95 L91.94 789.24 L92.28 787.78 L92.63 785.52 L93 784.25 L93.39 782 L93.79 780.38 L94.21 778.58 L94.61 776.74 L95 774.86 L95.61 773.63 L96.19 771.96 L96.75 770.73 L98.25 769.76 L99 770.4 L99.75 772.63 L100.21 773.79 L100.68 775.49 L101.25 777.81 L101.69 779.01 L102.18 780.46 L102.7 782.82 L103.23 784.34 L103.75 786.58 L104.25 788.29 L104.74 789.97 L105.23 791.86 L105.73 793.06 L106.25 794.88 L106.9 796.62 L107.56 798.42 L108.25 800.01 L109 801.7 L109.82 803.91 L110.7 805.5 L111.61 806.4 L112.5 807.84 L113.65 808.4 L114.8 810.14 L116 811.81 L117.33 812.97 L118.72 812.35 L120 814.47 L121.55 815.56 L123 815.99 L123.82 817.65 L124.67 819.75 L125.5 820.63 L126.25 821.59 L127.48 823.55 L128.5 824.2 L130 822.82 L130.5 820.86 L131 819.24 L131.5 816.79 L131.79 815.76 L132.08 814.08 L132.36 812.31 L132.67 809.91 L133 807.82 L133.23 806.71 L133.48 804.9 L133.74 803.39 L134 801.52 L134.26 799.43 L134.52 797.78 L134.77 796.54 L135 794.87 L135.33 792.99 L135.64 791.41 L135.92 789.51 L136.21 788.11 L136.5 786.99 L136.94 784.49 L137.39 782.77 L138 781.13 L138.9 779.39 L139.96 778.26 L141 778.38 L142.44 777.44 L143.75 776.99 L144.81 777.86 L145.75 779.95 L146.31 780.66 L146.83 781.78 L147.5 783.76 L148.16 785.28 L148.91 787.08 L149.7 788.67 L150.5 790.5 L151.28 791.78 L152.08 794.24 L152.9 796.02 L153.75 796.67 L154.96 796.04 L156.23 794.38 L157.5 791.99 L158.75 790.4 L160 789.28 L161.25 787.14 L162.5 785.84 L163.75 784.87 L165 782.88 L166.27 782.91 L167.54 781.75 L168.75 780.52 L170.42 781.06 L172 781.78 L173.55 783.23 L175 784.51 L175.87 786.36 L176.69 787.94 L177.5 789.9 L178.28 791.79 L179.06 793.64 L180 794.53 L180.88 796.03 L181.86 798.14 L182.91 800.08 L184 801.08 L185.16 802.39 L186.39 804.17 L187.62 804.52 L188.75 805.32 L190.07 807.21 L191.29 808.31 L192.5 808.44 L194.38 810.33 L196.25 810.7 L198.12 810.38 L200 808.72 L202.11 808.02 L203.75 808.26" stroke="#1c1c1c" stroke-width="1.05" fill="none" stroke-linejoin="round" stroke-linecap="round"/>
</g>
<g>
<rect x="306.4" y="703.1" width="209.1" height="155.4" fill="none" stroke="#484848" stroke-width="1.1"/>
<path d="M323.75 858.5 v-3.6M358.5 858.5 v-3.6M393.25 858.5 v-3.6M428 858.5 v-3.6M462.75 858.5 v-3.6M497.5 858.5 v-3.6M341.12 858.5 v-2M375.88 858.5 v-2M410.62 858.5 v-2M445.38 858.5 v-2M480.12 858.5 v-2M514.88 858.5 v-2M306.4 712.3 h3.6M306.4 749.7 h3.6M306.4 787.4 h3.6M306.4 825.3 h3.6M306.4 731 h2M306.4 768.6 h2M306.4 806.3 h2M306.4 844 h2" stroke="#484848" stroke-width="1" fill="none"/>
<text x="323.75" y="869.67" font-size="9.3" text-anchor="middle">920</text>
<text x="358.5" y="869.67" font-size="9.3" text-anchor="middle">930</text>
<text x="393.25" y="869.67" font-size="9.3" text-anchor="middle">940</text>
<text x="428" y="869.67" font-size="9.3" text-anchor="middle">950</text>
<text x="462.75" y="869.67" font-size="9.3" text-anchor="middle">960</text>
<text x="497.5" y="869.67" font-size="9.3" text-anchor="middle">970</text>
<text x="410" y="880.79" font-size="11.8" text-anchor="middle" textLength="99" lengthAdjust="spacingAndGlyphs">Binding energy(eV)</text>
<text transform="translate(293.95 786) rotate(-90)" font-size="11.4" text-anchor="middle" textLength="73.6" lengthAdjust="spacingAndGlyphs">Intensity (a.u.)</text>
<text x="311.9" y="716.9" font-size="11.85" text-anchor="start">(h)Cu2p</text>
<text x="359.9" y="727.4" font-size="8.75" text-anchor="start">Cu2p<tspan font-size="6.65" dx="0.4" dy="3.24">3/2</tspan></text>
<text x="428.5" y="746.1" font-size="8.75" text-anchor="start">Cu2p<tspan font-size="6.65" dx="0.4" dy="3.24">1/2</tspan></text>
<path d="M321.75 844.34 L322.97 844 L324.5 843.47 L325.77 842.06 L327 840.96 L328.22 839.66 L329.5 838.26 L331 838.95 L332.5 837.26 L333.84 834.95 L335 834.16 L335.77 832.76 L336.5 831.71 L337.58 829.41 L338.75 828.78 L339.86 828.99 L341 830.69 L342.22 832.02 L343.5 832.46 L344.4 832.58 L345.32 834.4 L346.25 834.45 L347.61 834.2 L349 833.98 L350.48 833.37 L352 833.91 L353.53 833.46 L355 833.32 L357.5 833.79 L358.21 831.51 L358.87 830.56 L359.5 828.38 L359.87 826.9 L360.24 825.37 L360.6 824.17 L360.94 822.5 L361.25 820.7 L361.53 819.16 L361.79 817.33 L362.02 815.31 L362.26 813.54 L362.5 812.05 L362.74 810.5 L362.98 809.19 L363.21 807.72 L363.47 805.71 L363.75 803.29 L363.88 801.81 L364.02 800.37 L364.16 798.86 L364.31 797.04 L364.47 795.45 L364.62 793.69 L364.78 791.68 L364.94 789.77 L365.09 787.99 L365.23 786.34 L365.37 784.63 L365.5 783 L365.65 781.12 L365.78 779.5 L365.91 777.73 L366.04 776.13 L366.16 774.45 L366.27 772.37 L366.39 770.89 L366.51 769.4 L366.63 767.66 L366.75 766.05 L366.89 764.04 L367.03 762.25 L367.17 760.61 L367.31 758.68 L367.44 756.96 L367.58 755.2 L367.72 753.47 L367.86 751.78 L368 750.22 L368.18 748.25 L368.36 746.37 L368.54 744.25 L368.71 742.51 L368.89 740.9 L369.07 739.58 L369.25 738.34 L369.56 735.8 L369.86 733.52 L370.17 731.53 L370.5 730.36 L370.97 731.22 L371.47 733.3 L372 735.49 L372.33 737.33 L372.68 738.81 L373.04 741.18 L373.4 742.46 L373.75 744.68 L373.94 746.68 L374.13 748.17 L374.32 749.47 L374.51 751.14 L374.71 752.73 L374.9 754.53 L375.09 756.25 L375.29 757.94 L375.5 760.3 L375.69 761.89 L375.88 763.6 L376.08 764.91 L376.28 767 L376.48 768.44 L376.69 770.66 L376.89 772.04 L377.1 774.16 L377.3 775.6 L377.5 777.82 L377.72 779.61 L377.95 781.1 L378.18 783.23 L378.4 784.92 L378.63 786.23 L378.85 788.42 L379.07 790.1 L379.29 791.26 L379.5 793.12 L379.76 794.8 L380.02 796.48 L380.27 798.62 L380.51 800.11 L380.76 802.29 L381 803.75 L381.25 804.76 L381.68 807.07 L382.11 808.51 L382.54 810.39 L383 812.13 L383.63 814.15 L384.29 815.8 L385 816.46 L386.28 817.83 L387.5 819.72 L388.31 818.04 L389 816.4 L389.38 814.63 L389.75 813.81 L390.12 811.48 L390.5 809.9 L390.8 808.15 L391.09 806.49 L391.38 804.8 L391.68 803.18 L392 800.59 L392.32 799.35 L392.65 797.31 L392.98 796.21 L393.35 794.46 L393.75 793 L394.21 791.13 L394.73 788.75 L395.27 786.33 L395.79 785.21 L396.25 783.65 L398 783.45 L400 781.54 L400.67 784.95 L401.25 786.11 L401.88 784.72 L402.5 783.1 L403.08 781.86 L403.75 780.57 L404.77 779.4 L405.75 777.42 L406.3 778.38 L406.75 780.84 L407.04 782.15 L407.34 783.95 L407.66 785.72 L408 787.12 L408.28 789.03 L408.57 791.17 L408.87 792.83 L409.18 794.41 L409.5 795.9 L409.92 797.66 L410.36 799.2 L410.81 800.93 L411.25 801.96 L412.11 803.56 L413 804.76 L415 808.13 L416.5 807.89 L418 805.42 L420 807.45 L422.5 806.62 L423.75 805.99 L425 804.68 L425.85 802.72 L426.7 801.54 L427.5 799.53 L428.21 798.32 L428.87 796.03 L429.5 794.28 L429.96 792.82 L430.39 791.01 L430.82 789.45 L431.25 787.77 L431.54 786.01 L431.82 784.87 L432.11 782.68 L432.4 781.52 L432.69 779.96 L433 778.41 L433.32 776.46 L433.65 774.33 L433.98 772.86 L434.32 771.01 L434.66 769.05 L435 767.6 L435.4 765.18 L435.81 763.35 L436.22 761.82 L436.62 760.99 L437 758.48 L437.46 756.88 L437.91 755.67 L438.34 754.25 L438.75 752.38 L439.52 750.9 L440.25 750.84 L441.75 748.72 L442.48 749.61 L443.25 751.69 L443.81 753.84 L444.39 755.21 L445 757.59 L445.39 758.41 L445.79 760.78 L446.21 762.51 L446.61 764 L447 764.61 L447.44 767.19 L447.86 768.7 L448.28 769.46 L448.75 771.14 L449.47 772.66 L450.25 774.72 L451 776.89 L452.02 778.11 L453 780.41 L453.97 779.31 L455 776.18 L456.25 775.33 L457.5 776.19 L459.5 776.21 L461.25 773.37 L461.82 773.13 L462.4 771.32 L463 768.85 L463.47 768.52 L463.95 766.43 L464.46 765.15 L465 764.15 L465.47 761.7 L465.96 761.12 L466.48 758.89 L466.99 757.6 L467.5 755.73 L468.14 754.26 L468.78 751.96 L469.41 750.96 L470 749.85 L471.05 751.04 L472 752.28 L472.55 754.56 L473.06 755.28 L473.75 757.93 L474.31 758.92 L474.95 760.88 L475.65 762.37 L476.34 763.77 L477 766.64 L477.62 768 L478.22 770.1 L478.81 771.42 L479.4 772.53 L480 773.54 L481.5 775.24 L483 775.32 L484.44 775.72 L486 774.77 L488 774.77 L490 774.73 L491.55 773.46 L493 773.29 L494.81 773.13 L496.25 772.1" stroke="#1c1c1c" stroke-width="1.05" fill="none" stroke-linejoin="round" stroke-linecap="round"/>
</g>
</svg>
</body></html>
